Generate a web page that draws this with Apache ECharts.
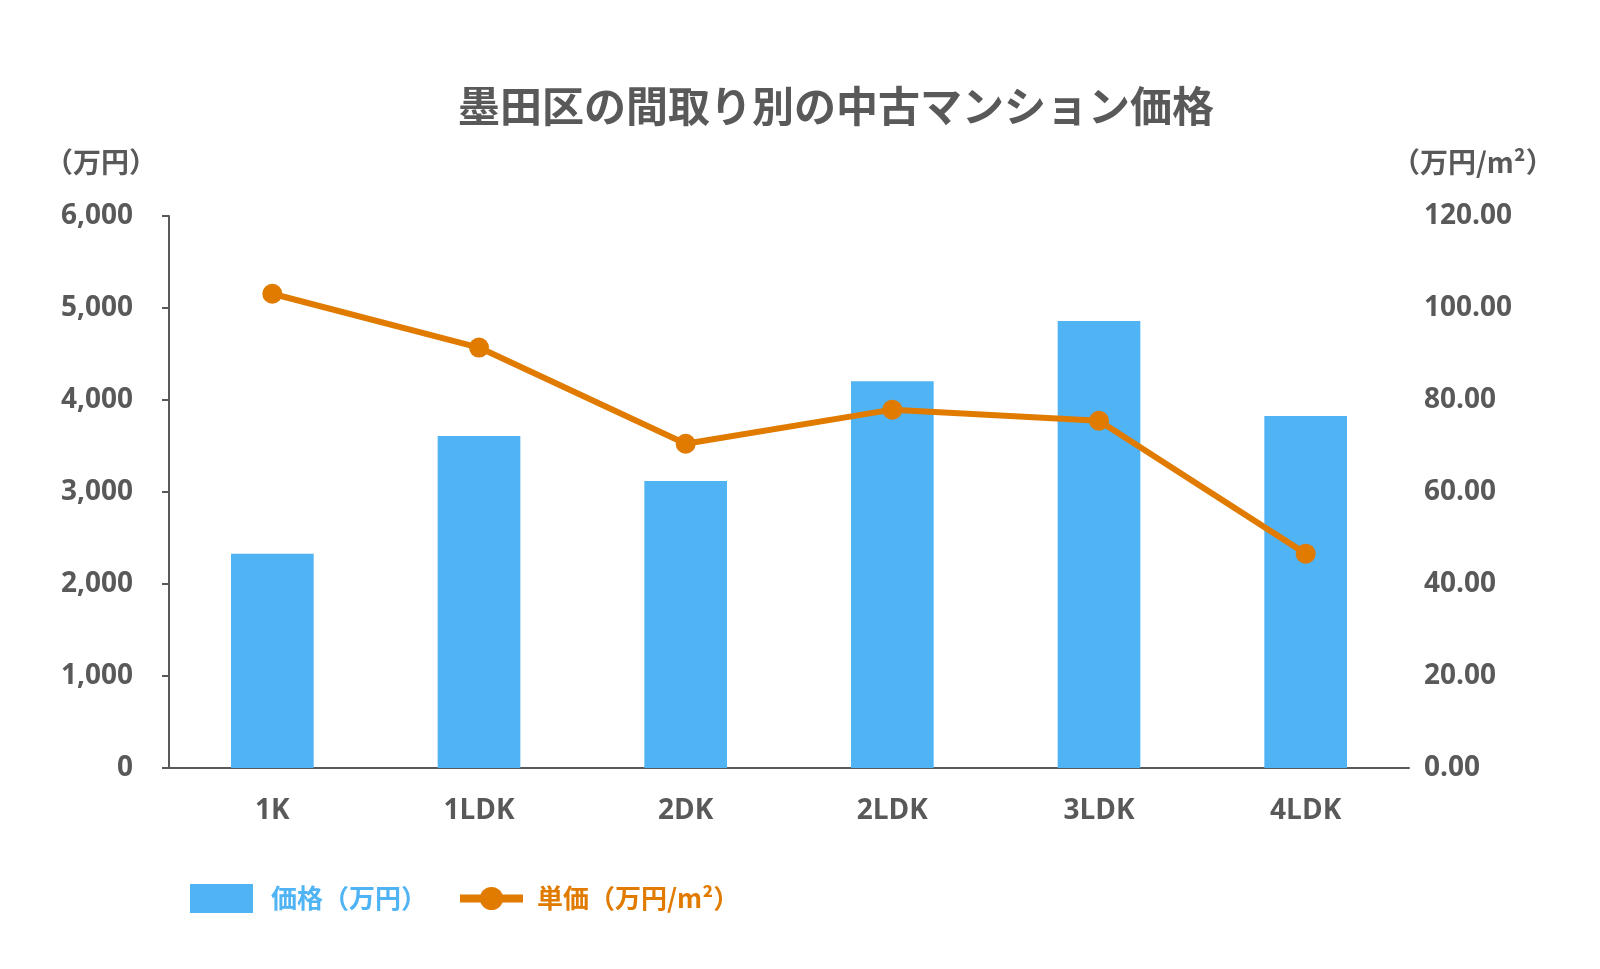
<!DOCTYPE html>
<html>
<head>
<meta charset="utf-8">
<script src="https://cdn.jsdelivr.net/npm/echarts@6/dist/echarts.min.js"></script>
<style>
html,body{margin:0;padding:0;background:#fff;}
#chart{width:1600px;height:969px;}
</style>
</head>
<body>
<div id="chart"></div>
<script>
const titleText = '墨田区の間取り別の中古マンション価格';
const categories = ['1K', '1LDK', '2DK', '2LDK', '3LDK', '4LDK'];
const priceName = '価格（万円）';
const unitPriceName = '単価（万円/m²）';
const priceValues = [2330, 3610, 3120, 4205, 4860, 3825];
const unitPriceValues = [103.1, 91.4, 70.5, 77.9, 75.5, 46.6];
const leftAxisName = '（万円）';
const rightAxisName = '（万円/m²）';

const gray = '#595959';
const blue = '#4FB3F4';
const orange = '#E07B00';
const font = '"Open Sans", "Noto Sans CJK JP", sans-serif';
const cjk = '"Noto Sans CJK JP", sans-serif';

const chart = echarts.init(document.getElementById('chart'));
chart.setOption({
  backgroundColor: '#fff',
  animation: false,
  textStyle: { fontFamily: font },
  title: {
    text: titleText,
    left: 831, top: 80, textAlign: 'center',
    textStyle: { fontSize: 42, fontWeight: 'bold', color: gray, fontFamily: cjk }
  },
  legend: {
    left: 190, top: 884, padding: 0,
    itemWidth: 63, itemHeight: 29, itemGap: 29,
    textStyle: { fontSize: 26, fontWeight: 'bold', fontFamily: cjk },
    data: [
      { name: priceName, icon: 'rect', textStyle: { color: blue, padding: [0, 0, 0, 13] } },
      { name: unitPriceName, lineStyle: { width: 8, color: orange }, textStyle: { color: orange, padding: [0, 0, 0, 9] } }
    ]
  },
  grid: { left: 169, right: 191, top: 216, bottom: 201 },
  xAxis: {
    type: 'category',
    data: categories,
    axisLine: { lineStyle: { color: gray, width: 2 } },
    axisTick: { show: false },
    axisLabel: { color: gray, fontSize: 28, fontWeight: 'bold', margin: 29 }
  },
  yAxis: [
    {
      type: 'value', min: 0, max: 6000, interval: 1000,
      name: leftAxisName, nameLocation: 'end', nameGap: 40,
      nameTextStyle: { color: gray, fontSize: 28, fontWeight: 'bold', align: 'right', padding: [0, 12, 0, 0], fontFamily: cjk },
      axisLine: { show: true, lineStyle: { color: gray, width: 2 } },
      axisTick: { show: true, length: 7, lineStyle: { color: gray, width: 2 } },
      splitLine: { show: false },
      axisLabel: {
        color: gray, fontSize: 28, fontWeight: 'bold', margin: 36,
        formatter: v => v.toLocaleString('en-US')
      }
    },
    {
      type: 'value', min: 0, max: 120, interval: 20,
      name: rightAxisName, nameLocation: 'end', nameGap: 40,
      nameTextStyle: { color: gray, fontSize: 28, fontWeight: 'bold', align: 'left', padding: [0, 0, 0, -17], fontFamily: cjk },
      axisLine: { show: false },
      axisTick: { show: false },
      splitLine: { show: false },
      axisLabel: {
        color: gray, fontSize: 28, fontWeight: 'bold', margin: 15,
        formatter: v => v.toFixed(2)
      }
    }
  ],
  series: [
    {
      name: priceName, type: 'bar', yAxisIndex: 0,
      data: priceValues, barWidth: '40%',
      itemStyle: { color: blue }
    },
    {
      name: unitPriceName, type: 'line', yAxisIndex: 1,
      data: unitPriceValues,
      symbol: 'circle', symbolSize: 20,
      lineStyle: { color: orange, width: 6 },
      itemStyle: { color: orange }
    }
  ]
});
</script>
</body>
</html>
